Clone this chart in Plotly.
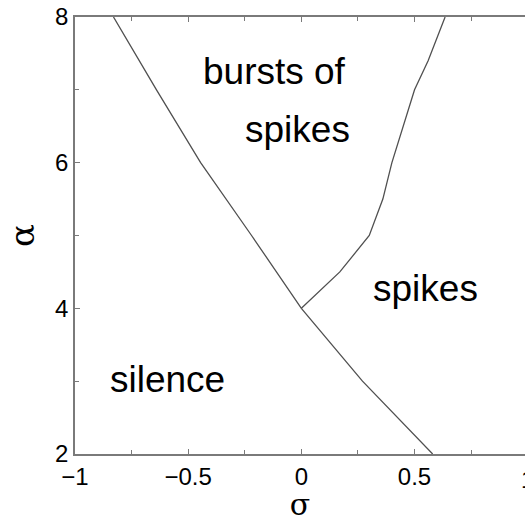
import plotly.graph_objects as go

# Boundary between silence and the spiking regimes
sigma_silence = [-0.83, -0.64, -0.445, -0.22, 0.0, 0.27, 0.58]
alpha_silence = [8.0, 7.0, 6.0, 5.0, 4.0, 3.0, 2.0]

# Boundary between bursting and tonic spiking
sigma_burst = [0.0, 0.17, 0.30, 0.36, 0.40, 0.46, 0.50, 0.56, 0.635]
alpha_burst = [4.0, 4.5, 5.0, 5.5, 6.0, 6.6, 7.0, 7.4, 8.0]

# Region names and their positions (sigma, alpha)
region_text = ["bursts of", "spikes", "spikes", "silence"]
region_sigma = [-0.12, -0.015, 0.547, -0.59]
region_alpha = [7.25, 6.45, 4.27, 3.02]

x_ticks = [-1, -0.5, 0, 0.5]
x_ticktext = ["\u22121", "\u22120.5", "0", "0.5"]
x_minor = [-0.75, -0.25, 0.25, 0.75]
y_ticks = [2, 4, 6, 8]
y_minor = [3, 5, 7]

FONT = "Liberation Sans, Arial, Helvetica, sans-serif"
LINE = "#505050"
AXIS = "#7a7a7a"
TICK_SIZE = 24

fig = go.Figure()
fig.add_trace(go.Scatter(x=sigma_silence, y=alpha_silence, mode="lines",
                         line=dict(color=LINE, width=1.3), hoverinfo="skip"))
fig.add_trace(go.Scatter(x=sigma_burst, y=alpha_burst, mode="lines",
                         line=dict(color=LINE, width=1.3), hoverinfo="skip"))

for t, sx, ay in zip(region_text, region_sigma, region_alpha):
    fig.add_annotation(x=sx, y=ay, text=t, showarrow=False,
                       font=dict(family=FONT, size=37, color="black"))

# Tick label at sigma = 1 sits on the right border of the page
fig.add_annotation(xref="paper", yref="paper", x=2 / 1.988, y=0, yshift=-10,
                   text="1", showarrow=False, xanchor="center", yanchor="top",
                   font=dict(family=FONT, size=TICK_SIZE, color="black"))

fig.update_xaxes(range=[-1, 0.988], tickvals=x_ticks, ticktext=x_ticktext,
                 ticks="inside", ticklen=5, tickcolor=AXIS, tickwidth=1.3,
                 minor=dict(tickvals=x_minor, ticks="inside", ticklen=4,
                            tickcolor=AXIS, tickwidth=1.3),
                 showline=True, linecolor=AXIS, linewidth=1.5, mirror="ticks",
                 showgrid=False, zeroline=False,
                 tickfont=dict(family=FONT, size=TICK_SIZE, color="black"),
                 title=dict(text="\u03c3", standoff=9,
                            font=dict(family="DejaVu Serif, serif", size=30, color="black")))
fig.update_yaxes(range=[2, 8], tickvals=y_ticks,
                 ticks="inside", ticklen=5, tickcolor=AXIS, tickwidth=1.3,
                 minor=dict(tickvals=y_minor, ticks="inside", ticklen=4,
                            tickcolor=AXIS, tickwidth=1.3),
                 showline=True, linecolor=AXIS, linewidth=1.5, mirror=False,
                 showgrid=False, zeroline=False,
                 tickfont=dict(family=FONT, size=TICK_SIZE, color="black"),
                 title=dict(text="\u03b1", standoff=10,
                            font=dict(family="DejaVu Serif, serif", size=34, color="black")))

fig.update_layout(width=525, height=522, showlegend=False,
                  paper_bgcolor="white", plot_bgcolor="white",
                  margin=dict(l=75, r=0, t=17, b=68))

fig.write_html("out.html")
